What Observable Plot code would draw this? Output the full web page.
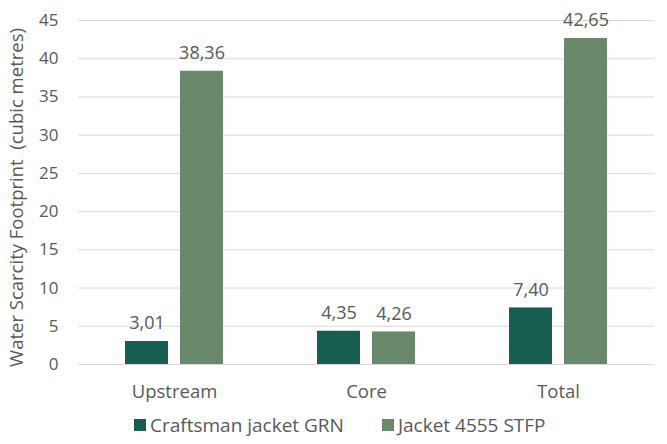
<!DOCTYPE html>
<html>
<head>
<meta charset="utf-8">
<script src="https://cdn.jsdelivr.net/npm/d3@7"></script>
<script src="https://cdn.jsdelivr.net/npm/@observablehq/plot@0.6"></script>
<style>
  body { margin: 0; background: #fff; font-family: "Open Sans", sans-serif; }
  #chart svg { display: block; }
  .legend { height: 39px; display: flex; justify-content: flex-start; align-items: center; font-size: 19px; color: #595959; padding-left: 134px; padding-top: 1px; box-sizing: border-box; }
  .legend span.item { display: inline-flex; align-items: center; }
  .legend span.sw { width: 12px; height: 12px; display: inline-block; margin-right: 4px; }
</style>
</head>
<body>
<div id="chart"></div>
<script>
const categories = ["Upstream", "Core", "Total"];
const seriesNames = ["Craftsman jacket GRN", "Jacket 4555 STFP"];
const craftsman = [3.01, 4.35, 7.40];
const jacket = [38.36, 4.26, 42.65];
const yTicks = [0, 5, 10, 15, 20, 25, 30, 35, 40, 45];
const yLabel = "Water Scarcity Footprint  (cubic metres)";
const colors = ["#175e51", "#6a886c"];

const data = [];
categories.forEach((c, i) => {
  data.push({cat: c, series: seriesNames[0], value: craftsman[i]});
  data.push({cat: c, series: seriesNames[1], value: jacket[i]});
});
const fmt = v => v.toFixed(2).replace(".", ",");

const plot = Plot.plot({
  width: 667,
  height: 405,
  marginLeft: 77,
  marginRight: 12,
  marginTop: 20,
  marginBottom: 41,
  style: {fontFamily: "Open Sans, sans-serif", fontSize: "17px", color: "#595959", background: "#fff"},
  fx: {domain: categories, padding: 0, label: null, axis: "bottom", tickSize: 0, tickPadding: 20},
  x: {domain: seriesNames, axis: null, paddingInner: 0.214, paddingOuter: 0.83},
  y: {domain: [0, 45], ticks: yTicks, label: yLabel, labelAnchor: "center", labelArrow: "none", labelOffset: 69, tickSize: 0, tickPadding: 20},
  color: {domain: seriesNames, range: colors},
  marks: [
    Plot.gridY(yTicks, {stroke: "#d9d9d9", strokeOpacity: 1, strokeWidth: 1}),
    Plot.barY(data, {fx: "cat", x: "series", y: "value", fill: "series"}),
    Plot.text(data, {fx: "cat", x: "series", y: "value", text: d => fmt(d.value), dy: -18, fill: "#595959", fontSize: 18})
  ]
});
plot.querySelectorAll("g[aria-label='fx-axis tick label'] text, g[aria-label='fx-axis'] text").forEach(t => t.style.fontSize = "18.5px");
plot.querySelectorAll("g[aria-label='y-axis label']").forEach(g => {
  g.querySelectorAll("text").forEach(t => t.style.fontSize = "18.5px");
  g.setAttribute("transform", (g.getAttribute("transform") || "") + " translate(0,5)");
});
document.getElementById("chart").appendChild(plot);

const leg = document.createElement("div");
leg.className = "legend";
seriesNames.forEach((s, i) => {
  const it = document.createElement("span");
  it.className = "item";
  it.style.marginRight = i === 0 ? "38px" : "0";
  const sw = document.createElement("span");
  sw.className = "sw";
  sw.style.background = colors[i];
  it.appendChild(sw);
  it.appendChild(document.createTextNode(s));
  leg.appendChild(it);
});
document.body.appendChild(leg);
</script>
</body>
</html>
